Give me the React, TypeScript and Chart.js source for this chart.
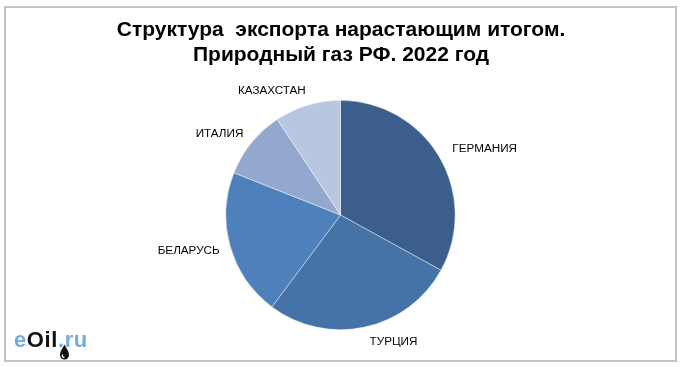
import React, { useEffect, useRef } from "react";
import { Chart, registerables } from "chart.js";

Chart.register(...registerables);

const categories = ["ГЕРМАНИЯ", "ТУРЦИЯ", "БЕЛАРУСЬ", "ИТАЛИЯ", "КАЗАХСТАН"];
const shares = [33.0, 27.2, 20.8, 9.7, 9.3];
const sliceColors = ["#3B5E8C", "#4573A7", "#4E80BC", "#93A8CF", "#B9C6E0"];
const titleLines = ["Структура  экспорта нарастающим итогом.", "Природный газ РФ. 2022 год"];

const labelPlugin = {
  id: "outsideLabels",
  afterDatasetsDraw(chart: any) {
    const ctx = chart.ctx;
    const meta = chart.getDatasetMeta(0);
    ctx.save();
    ctx.font = "11.7px 'Liberation Sans', Arial, sans-serif";
    ctx.fillStyle = "#000";
    ctx.textBaseline = "middle";
    meta.data.forEach((arc: any, i: number) => {
      const p = arc.getProps(["x", "y", "startAngle", "endAngle", "outerRadius"], true);
      const mid = (p.startAngle + p.endAngle) / 2;
      const r = p.outerRadius + 13;
      const px = p.x + Math.cos(mid) * r + 2;
      const py = p.y + Math.sin(mid) * r + Math.sin(mid) * 2;
      ctx.textAlign = Math.cos(mid) >= 0 ? "left" : "right";
      ctx.fillText(chart.data.labels[i], px, py);
    });
    ctx.restore();
  },
};

const titlePlugin = {
  id: "customTitle",
  afterDraw(chart: any) {
    const ctx = chart.ctx;
    ctx.save();
    ctx.font = "bold 21px 'Liberation Sans', Arial, sans-serif";
    ctx.fillStyle = "#000";
    ctx.textAlign = "center";
    ctx.textBaseline = "middle";
    ctx.fillText(titleLines[0], 341, 30);
    ctx.fillText(titleLines[1], 341, 55);
    ctx.restore();
  },
};

export default function App() {
  const ref = useRef<HTMLCanvasElement | null>(null);
  useEffect(() => {
    if (!ref.current) return;
    const chart = new Chart(ref.current, {
      type: "pie",
      data: {
        labels: categories,
        datasets: [
          {
            data: shares,
            backgroundColor: sliceColors,
            borderColor: "rgba(255,255,255,0.6)",
            borderWidth: 0.7,
          },
        ],
      },
      options: {
        responsive: false,
        animation: false,
        layout: { padding: { top: 100, bottom: 37, left: 1, right: 0 } },
        plugins: {
          legend: { display: false },
          title: { display: false },
          tooltip: { enabled: false },
        },
      },
      plugins: [labelPlugin, titlePlugin],
    });
    return () => chart.destroy();
  }, []);

  return (
    <div style={{ position: "fixed", left: 0, top: 0, width: 680, height: 367, background: "#fff" }}>
      <canvas ref={ref} width={680} height={367} style={{ position: "absolute", left: 0, top: 0 }} />
      <div
        style={{
          position: "absolute",
          left: 4,
          top: 6,
          width: 669,
          height: 352,
          border: "2px solid #c4c4c4",
          pointerEvents: "none",
        }}
      />
      <div
        style={{
          position: "absolute",
          left: 14,
          top: 328,
          fontFamily: "'Liberation Sans', Arial, sans-serif",
          fontSize: 22,
          fontWeight: "bold",
          lineHeight: "24px",
          letterSpacing: 0.6,
          whiteSpace: "nowrap",
        }}
      >
        <span style={{ color: "#74ACDD" }}>e</span>
        <span style={{ color: "#111" }}>Oil</span>
        <span style={{ color: "#74ACDD" }}>.ru</span>
      </div>
      <svg style={{ position: "absolute", left: 59, top: 344 }} width={11} height={17}>
        <path d="M5.5 0.5 C 7 4, 10 7, 10 11 A 4.5 4.5 0 0 1 1 11 C 1 7, 4 4, 5.5 0.5 Z" fill="#111" />
        <path d="M3.6 10.5 A 2 2 0 0 0 5.5 13.5" stroke="#fff" strokeWidth={1.2} fill="none" />
      </svg>
    </div>
  );
}
